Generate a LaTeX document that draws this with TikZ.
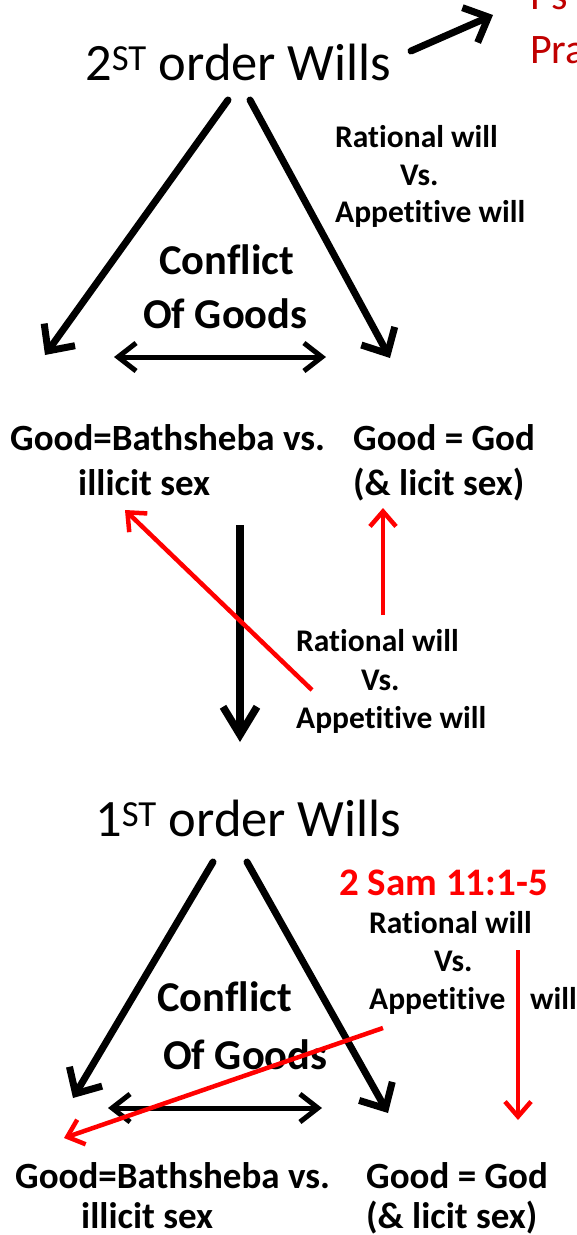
\documentclass[tikz,border=0pt]{standalone}
\usepackage{fontspec}
\setmainfont[Ligatures=NoCommon]{Carlito}
\usetikzlibrary{arrows.meta}
\definecolor{slidered}{RGB}{192,0,0}
\definecolor{brightred}{RGB}{255,0,0}

\tikzset{
	txt/.style={inner sep=0pt,anchor=base west},
	title/.style={txt,font=\fontsize{52.5}{60}\selectfont},
	goods/.style={txt,font=\bfseries\fontsize{42.5}{48}\selectfont},
	good/.style={txt,font=\bfseries\fontsize{37}{44}\selectfont},
	will/.style={txt,font=\bfseries\fontsize{31.5}{36}\selectfont},
	bigarrow/.style={line width=7pt,line cap=round,-{Straight Barb[length=20pt,width=38pt]}},
	bothway/.style={line width=5pt,line cap=round,{Straight Barb[length=18pt,width=28pt]}-{Straight Barb[length=18pt,width=28pt]}},
	redarrow/.style={brightred,line width=4.5pt,-{Straight Barb[length=15pt,width=26pt]}},
}

\begin{document}
\begin{tikzpicture}[x=1pt,y=-1pt]
	\useasboundingbox (0,0) rectangle (576,1235);
	\clip (0,0) rectangle (576,1235);

	\node [title] (second) at (85,80) {2\textsuperscript{ST} order Wills};
	\node [txt,text=slidered,font=\fontsize{42}{50}\selectfont] (ps) at (530,9) {Ps};
	\node [txt,text=slidered,font=\fontsize{42}{50}\selectfont] (pra) at (530,63) {Pra};
	\node [will] (ratA) at (335,147) {Rational will};
	\node [will] (vsA) at (400,185) {Vs.};
	\node [will] (appA) at (335,222) {Appetitive will};
	\node [goods] (confA) at (159,274) {Conflict};
	\node [goods] (ofA) at (143,328) {Of Goods};
	\node [good] (bathA) at (10,450) {Good=Bathsheba vs.};
	\node [good] (illA) at (78,495) {illicit sex};
	\node [good] (godA) at (353,450) {Good = God};
	\node [good] (licA) at (353,495) {(\& licit sex)};
	\node [will] (ratB) at (296,651) {Rational will};
	\node [will] (vsB) at (361,690) {Vs.};
	\node [will] (appB) at (296,728) {Appetitive will};

	\node [title] (first) at (95,836) {1\textsuperscript{ST} order Wills};
	\node [will,text=brightred,font=\bfseries\fontsize{39}{44}\selectfont] (sam) at (339,895) {2 Sam 11:1-5};
	\node [will] (ratC) at (369,933) {Rational will};
	\node [will] (vsC) at (434,971) {Vs.};
	\node [will] (appC) at (369,1009) {Appetitive};
	\node [will] (wllC) at (530,1009) {will};
	\node [goods] (confC) at (157,1011) {Conflict};
	\node [goods] (ofC) at (163,1069) {Of Goods};
	\node [good] (bathC) at (15,1188) {Good=Bathsheba vs.};
	\node [good] (illC) at (81,1228) {illicit sex};
	\node [good] (godC) at (366,1188) {Good = God};
	\node [good] (licC) at (366,1228) {(\& licit sex)};

	\coordinate (outA) at (411,51);
	\coordinate (inA) at (493,15);
	\coordinate (topAl) at (228,100);
	\coordinate (topAr) at (250,100);
	\coordinate (leftA) at (45,355);
	\coordinate (rightA) at (390,358);
	\coordinate (midAl) at (114,357);
	\coordinate (midAr) at (326,357);
	\coordinate (downS) at (240,525);
	\coordinate (downE) at (240,742);
	\coordinate (redBs) at (312,690);
	\coordinate (redBe) at (125,510);
	\coordinate (redGs) at (383,615);
	\coordinate (redGe) at (383,508);
	\coordinate (topCl) at (213,862);
	\coordinate (topCr) at (247,862);
	\coordinate (leftC) at (73,1098);
	\coordinate (rightC) at (388,1113);
	\coordinate (midCl) at (108,1108);
	\coordinate (midCr) at (322,1108);
	\coordinate (redCs) at (383,1028);
	\coordinate (redCe) at (64,1138);
	\coordinate (redDs) at (518,950);
	\coordinate (redDe) at (518,1120);

	\draw [bigarrow] (outA) -- (inA);
	\draw [bigarrow] (topAl) -- (leftA);
	\draw [bigarrow] (topAr) -- (rightA);
	\draw [bothway] (midAl) -- (midAr);
	\draw [line width=7.5pt,-{Straight Barb[length=28pt,width=34pt]}] (downS) -- (downE);
	\draw [redarrow] (redBs) -- (redBe);
	\draw [redarrow] (redGs) -- (redGe);

	\draw [bigarrow] (topCl) -- (leftC);
	\draw [bigarrow] (topCr) -- (rightC);
	\draw [bothway] (midCl) -- (midCr);
	\draw [redarrow] (redCs) -- (redCe);
	\draw [redarrow] (redDs) -- (redDe);
\end{tikzpicture}
\end{document}
